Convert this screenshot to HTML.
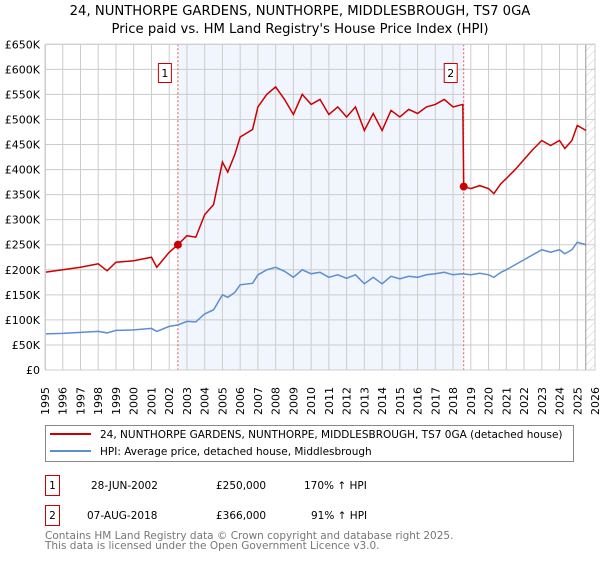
<!DOCTYPE html>
<html><head><meta charset="utf-8"><style>
body{margin:0;background:#fff;width:600px;height:560px;overflow:hidden;font-family:"DejaVu Sans","Liberation Sans",sans-serif}
svg text{font-family:"DejaVu Sans","Liberation Sans",sans-serif}
</style></head><body>
<svg id="c" width="600" height="560" xmlns="http://www.w3.org/2000/svg">
<defs><pattern id="hatch" width="6" height="6" patternUnits="userSpaceOnUse" patternTransform="rotate(45)"><line x1="0" y1="0" x2="0" y2="6" stroke="#ccc" stroke-width="1"/></pattern></defs>
<text x="300" y="15" text-anchor="middle" font-size="13.2" fill="#000">24, NUNTHORPE GARDENS, NUNTHORPE, MIDDLESBROUGH, TS7 0GA</text>
<text x="300" y="33" text-anchor="middle" font-size="13.2" fill="#000">Price paid vs. HM Land Registry's House Price Index (HPI)</text>
<g id="plot"></g>
<g>
<rect x="45.5" y="425.5" width="528" height="36" fill="#fff" stroke="#888"/>
<line x1="50" y1="434" x2="91" y2="434" stroke="#cc0000" stroke-width="2"/>
<text x="100" y="438" font-size="10.5">24, NUNTHORPE GARDENS, NUNTHORPE, MIDDLESBROUGH, TS7 0GA (detached house)</text>
<line x1="50" y1="451" x2="91" y2="451" stroke="#5b8fd1" stroke-width="2"/>
<text x="100" y="455" font-size="10.5">HPI: Average price, detached house, Middlesbrough</text>
</g>
<g font-size="10.5">
<rect x="45.5" y="475.5" width="14" height="20" fill="#fff" stroke="#cc0000"/><text x="52.5" y="489" text-anchor="middle">1</text>
<text x="91" y="489">28-JUN-2002</text><text x="216" y="489">£250,000</text><text x="304" y="489">170% ↑ HPI</text>
<rect x="45.5" y="505.5" width="14" height="20" fill="#fff" stroke="#cc0000"/><text x="52.5" y="519" text-anchor="middle">2</text>
<text x="87" y="519">07-AUG-2018</text><text x="216" y="519">£366,000</text><text x="311" y="519">91% ↑ HPI</text>
</g>
<g font-size="10.5" fill="#777">
<text x="45" y="539">Contains HM Land Registry data © Crown copyright and database right 2025.</text>
<text x="45" y="549">This data is licensed under the Open Government Licence v3.0.</text>
</g>
</svg>
<script>
const yTicks=[0,50,100,150,200,250,300,350,400,450,500,550,600,650];
const years=[1995,1996,1997,1998,1999,2000,2001,2002,2003,2004,2005,2006,2007,2008,2009,2010,2011,2012,2013,2014,2015,2016,2017,2018,2019,2020,2021,2022,2023,2024,2025,2026];
const hpiT=[1995,1996,1997,1998,1998.5,1999,2000,2001,2001.3,2002,2002.5,2003,2003.5,2004,2004.5,2005,2005.3,2005.7,2006,2006.7,2007,2007.5,2008,2008.5,2009,2009.5,2010,2010.5,2011,2011.5,2012,2012.5,2013,2013.5,2014,2014.5,2015,2015.5,2016,2016.5,2017,2017.5,2018,2018.5,2019,2019.5,2020,2020.3,2020.7,2021,2021.5,2022,2022.5,2023,2023.5,2024,2024.3,2024.7,2025,2025.5];
const hpiV=[72,73,75,77,74,79,80,83,77,87,90,97,96,112,120,150,145,155,170,173,190,200,205,197,185,200,192,195,185,190,183,190,172,185,172,187,182,187,185,190,192,195,190,192,190,193,190,185,195,200,210,220,230,240,235,240,232,240,255,250];
const priceT=[1995,1996,1997,1998,1998.5,1999,2000,2001,2001.3,2002,2002.49,2003,2003.5,2004,2004.5,2005,2005.3,2005.7,2006,2006.7,2007,2007.5,2008,2008.5,2009,2009.5,2010,2010.5,2011,2011.5,2012,2012.5,2013,2013.5,2014,2014.5,2015,2015.5,2016,2016.5,2017,2017.5,2018,2018.55,2018.6,2019,2019.5,2020,2020.3,2020.7,2021,2021.5,2022,2022.5,2023,2023.5,2024,2024.3,2024.7,2025,2025.5];
const priceV=[195,200,205,212,198,215,218,225,205,235,250,268,265,310,330,415,395,430,465,480,525,550,565,540,510,550,530,540,510,525,505,525,478,512,478,518,505,520,512,525,530,540,525,530,366,362,368,362,352,372,382,400,420,440,458,448,458,442,458,488,478];
const saleT=[2002.49,2018.6];
const saleV=[250,366];
const L=45,R=595,T=44.3,B=370;
const xs=t=>L+(t-1995)/31*(R-L);
const ys=v=>B-v/650*(B-T);
const NS="http://www.w3.org/2000/svg";
const g=document.getElementById('plot');
function mk(tag,at,parent){const e=document.createElementNS(NS,tag);for(const k in at)e.setAttribute(k,at[k]);(parent||g).appendChild(e);return e;}
let sh=mk('rect',{x:xs(saleT[0]),y:T,width:xs(saleT[1])-xs(saleT[0]),height:B-T,fill:'#eef3fc',opacity:0.8});


let ht=mk('rect',{x:xs(2025.48),y:T,width:R-xs(2025.48),height:B-T,fill:'url(#hatch)'});


mk('line',{x1:xs(2025.48),y1:T,x2:xs(2025.48),y2:B,stroke:'#999'});
years.forEach(y=>{
 const l=mk('line',{x1:xs(y),y1:T,x2:xs(y),y2:B,stroke:'#ccc'});
 
 
 const t=mk('text',{x:0,y:0,'font-size':11,transform:`translate(${xs(y)+4},${B+45}) rotate(-90)`});
 t.textContent=y;
 
 
});
yTicks.forEach(v=>{
 const l=mk('line',{x1:L,y1:ys(v),x2:R,y2:ys(v),stroke:'#ccc'});
 
 
 const t=mk('text',{x:40,y:ys(v)+4,'font-size':11,'text-anchor':'end'});
 t.textContent=v===0?'£0':'£'+v+'K';
 
 
});
saleT.forEach((t,i)=>{
 const l=mk('line',{x1:xs(t),y1:T,x2:xs(t),y2:B,stroke:'#e55','stroke-dasharray':'2,2'});
 
 
 const bx=mk('rect',{x:xs(t)-19.5,y:63.5,width:13,height:19,fill:'#fff',stroke:'#cc0000'});
 
 
 const tx=mk('text',{x:xs(t)-13,y:77,'font-size':11,'text-anchor':'middle'});
 tx.textContent=String(i+1);
 
 
});
const hp=mk('polyline',{points:hpiT.map((t,i)=>xs(t)+','+ys(hpiV[i])).join(' '),fill:'none',stroke:'#5b8fd1','stroke-width':1.5});


const pp=mk('polyline',{points:priceT.map((t,i)=>xs(t)+','+ys(priceV[i])).join(' '),fill:'none',stroke:'#cc0000','stroke-width':1.5});


saleT.forEach((t,i)=>{
 const c=mk('circle',{cx:xs(t),cy:ys(saleV[i]),r:4,fill:'#cc0000'});
 
 
});
mk('rect',{x:L+0.5,y:T,width:R-L-0.5,height:B-T,fill:'none',stroke:'#ccc'});
</script>
</body></html>
